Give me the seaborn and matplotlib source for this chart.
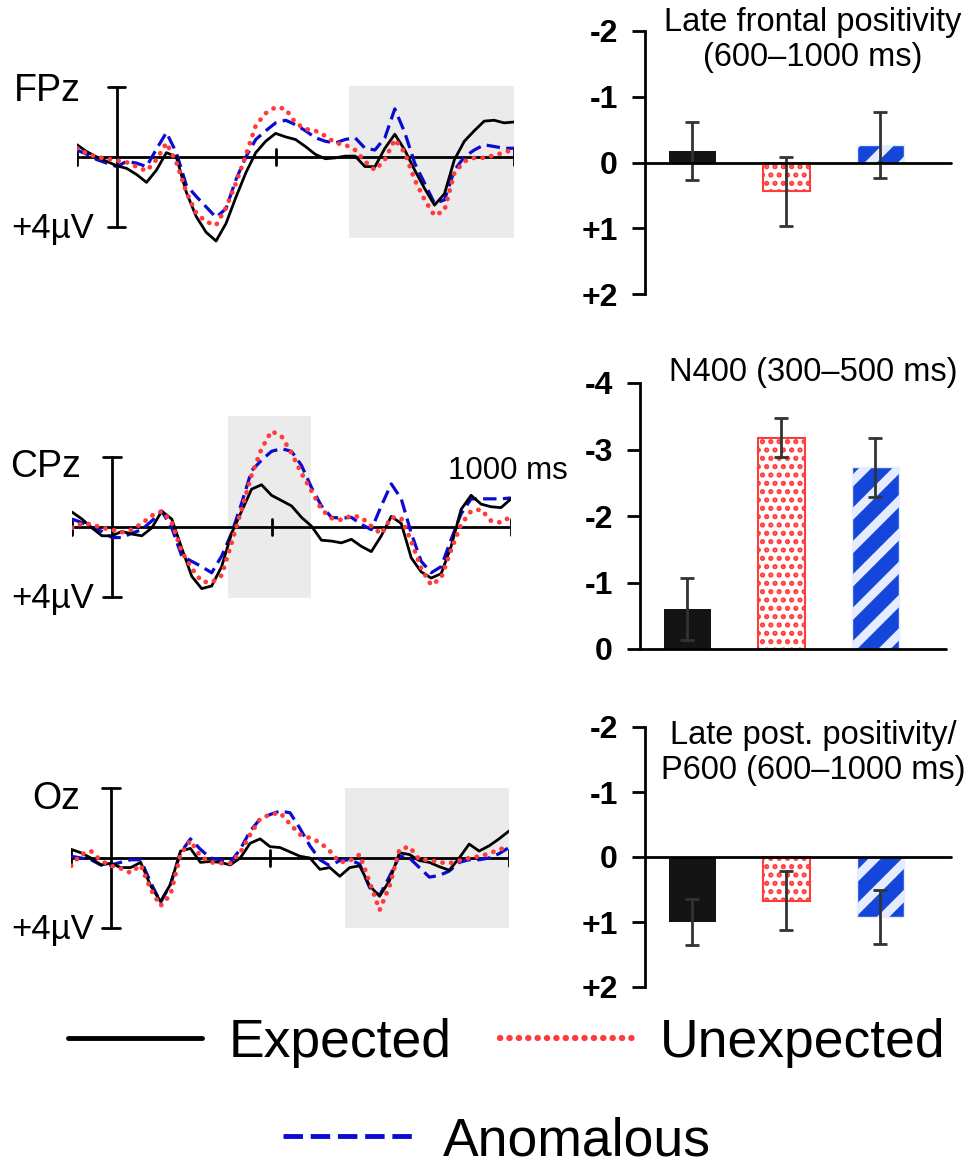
import numpy as np
import pandas as pd
import matplotlib
matplotlib.use("Agg")
import matplotlib.pyplot as plt
from matplotlib.lines import Line2D
import seaborn as sns

# ERP waveforms (µV, negative plotted up), sampled every 25 ms from -100 to 1000 ms
TIMES = np.arange(-100, 1001, 25)

FPZ_EXPECTED = [-0.7, -0.3, 0.0, 0.25, 0.5, 0.65, 1.0, 1.45, 0.75, -0.25, 0.0, 2.0, 3.4, 4.3, 4.8,
                3.8, 2.3, 0.9, -0.25, -0.9, -1.35, -1.15, -1.0, -0.6, -0.15, 0.1, 0.05, -0.05, -0.05,
                0.55, 0.55, -0.5, -1.3, -0.4, 0.75, 1.8, 2.75, 2.1, 0.15, -0.9, -1.5, -2.05, -2.1,
                -1.95, -2.0]
FPZ_UNEXPECTED = [-0.5, -0.2, 0.0, 0.1, 0.2, 0.3, 0.55, 0.8, 0.15, -0.8, 0.3, 2.0, 3.2, 3.7, 3.9,
                  2.9, 1.5, -0.1, -1.8, -2.5, -2.85, -2.75, -1.95, -1.6, -1.5, -1.2, -0.8, -0.7, -0.4,
                  0.25, 0.75, 0.15, -1.0, -0.25, 1.3, 2.45, 3.35, 3.05, 0.9, 0.25, 0.05, 0.05, -0.1,
                  -0.25, -0.45]
FPZ_ANOMALOUS = [-0.4, -0.15, 0.15, 0.35, 0.55, 0.25, 0.35, 0.55, -0.45, -1.4, -0.25, 1.6, 2.25, 2.85,
                 3.45, 2.95, 1.3, 0.0, -1.0, -1.5, -1.95, -2.1, -1.85, -1.5, -1.1, -0.9, -0.8, -1.0,
                 -1.1, -0.5, -0.4, -1.1, -2.75, -1.4, 0.35, 1.5, 2.65, 2.45, 0.75, 0.0, -0.4, -0.7,
                 -0.6, -0.5, -0.5]

CPZ_EXPECTED = [-0.85, -0.45, 0.05, 0.5, 0.5, 0.25, 0.4, 0.5, 0.05, -0.9, -0.45, 1.2, 2.8, 3.5, 3.35,
                2.25, 0.35, -0.9, -2.15, -2.4, -1.8, -1.5, -1.2, -0.55, -0.05, 0.75, 0.8, 0.9, 0.7,
                1.1, 1.4, 0.5, -0.6, -0.2, 1.75, 2.55, 2.9, 2.65, 1.1, -1.0, -1.8, -1.3, -1.15, -1.1,
                -1.6]
CPZ_UNEXPECTED = [0.05, -0.2, -0.15, 0.05, 0.15, 0.3, 0.15, -0.2, -0.65, -0.9, -0.25, 1.4, 2.35, 3.1,
                  3.15, 2.75, 0.9, -1.0, -2.95, -4.45, -5.45, -5.15, -4.2, -3.05, -2.05, -1.0, -0.5,
                  -0.4, -0.65, -0.55, -0.05, 0.4, -0.55, -0.5, 0.8, 2.35, 3.3, 2.9, 1.3, -0.15, -0.9,
                  -1.0, -0.35, -0.25, -0.6]
CPZ_ANOMALOUS = [-0.45, -0.25, 0.05, 0.25, 0.6, 0.6, 0.35, 0.15, -0.35, -0.9, 0.05, 1.65, 1.95, 2.25,
                 2.6, 1.65, 0.35, -1.35, -3.2, -3.8, -4.3, -4.45, -4.3, -3.5, -2.25, -1.2, -0.55,
                 -0.5, -0.55, -0.15, 0.15, -1.2, -2.45, -1.6, 0.35, 1.95, 2.6, 2.25, 0.7, -0.75,
                 -1.6, -1.6, -1.6, -1.6, -1.65]

OZ_EXPECTED = [-0.5, -0.3, 0.0, 0.4, 0.3, 0.55, 0.55, 0.25, 1.6, 2.5, 1.5, -0.4, -0.55, 0.25, 0.2,
               0.25, 0.4, 0.0, -0.85, -1.1, -0.65, -0.6, -0.35, -0.1, 0.0, 0.65, 0.55, 1.05, 0.55,
               0.45, 1.6, 2.2, 1.3, -0.3, -0.2, 0.15, 0.25, 0.5, 0.7, 0.0, -0.8, -0.4, -0.7, -1.1,
               -1.55]
OZ_UNEXPECTED = [0.45, -0.2, -0.4, 0.15, 0.45, 0.6, 0.85, 0.4, 1.8, 2.75, 2.1, -0.2, -1.0, -0.1, 0.25,
                 0.3, 0.3, -0.3, -1.35, -2.25, -2.5, -2.6, -1.95, -1.35, -1.15, -0.9, -0.4, 0.25,
                 0.15, -0.2, 1.4, 3.0, 1.6, -0.5, -0.65, 0.1, 0.1, 0.25, 0.3, 0.15, 0.0, -0.1, -0.25,
                 -0.5, -0.6]
OZ_ANOMALOUS = [-0.1, 0.0, 0.1, 0.4, 0.4, 0.25, 0.1, 0.1, 1.4, 2.55, 1.5, -0.3, -1.1, -0.5, 0.0, 0.1,
                0.25, -0.5, -1.55, -2.25, -2.5, -2.7, -2.6, -1.7, -0.7, 0.1, 0.45, 0.15, 0.1, 0.35,
                1.7, 2.15, 1.05, -0.1, 0.0, 0.55, 1.1, 1.0, 0.75, 0.25, 0.1, 0.1, 0.0, -0.25, -0.6]

TIME_TICKS = [-100, 400, 1000]
FPZ_WINDOW = [585, 1000]
CPZ_WINDOW = [290, 500]
OZ_WINDOW = [588, 1000]

# Mean amplitudes (µV) with error bars
CONDITIONS = ["Expected", "Unexpected", "Anomalous"]
FRONTAL_MEANS = [-0.18, 0.44, -0.27]
FRONTAL_ERRS = [0.44, 0.52, 0.50]
N400_MEANS = [-0.60, -3.18, -2.73]
N400_ERRS = [0.47, 0.29, 0.44]
P600_MEANS = [1.00, 0.67, 0.92]
P600_ERRS = [0.36, 0.45, 0.42]

TICKS_PM2 = [-2, -1, 0, 1, 2]
LABELS_PM2 = ["-2", "-1", "0", "+1", "+2"]
TICKS_N400 = [-4, -3, -2, -1, 0]
LABELS_N400 = ["-4", "-3", "-2", "-1", "0"]

BLACK = "#000000"
RED = "#ff3b3b"
BLUE = "#0a0ad2"
BAR_BLUE = "#1447d9"
SHADE = "#ebebeb"

W, H = 974, 1169
sns.set_theme(style="white")
plt.rcParams["font.family"] = ["Liberation Sans", "DejaVu Sans"]
plt.rcParams.update({"text.color": BLACK, "axes.labelcolor": BLACK,
                     "xtick.color": BLACK, "ytick.color": BLACK})
plt.rcParams["hatch.linewidth"] = 2.5

fig = plt.figure(figsize=(W / 100, H / 100), dpi=100)


def px_axes(left, top, right, bottom):
    return fig.add_axes([left / W, 1 - bottom / H, (right - left) / W, (bottom - top) / H])


def px_text(x, y, s, **kw):
    fig.text(x / W, 1 - y / H, s, color=BLACK, **kw)


STYLES = {
    "Expected": dict(color=BLACK, lw=2.0, zorder=4),
    "Unexpected": dict(color=RED, lw=3.4, linestyle=(0, (0.05, 1.8)), dash_capstyle="round", zorder=5),
    "Anomalous": dict(color=BLUE, lw=2.3, linestyle=(0, (4.2, 2)), zorder=3),
}


def erp_panel(left, right, base, scale, top, bottom, waves, window, shade_lim):
    ax = px_axes(left, top, right, bottom)
    ax.fill_between(window, shade_lim[0], shade_lim[1], color=SHADE, lw=0, zorder=0)
    ax.plot([TIMES[0], TIMES[-1]], [0, 0], color=BLACK, lw=2, zorder=2)
    for t in TIME_TICKS:
        ax.plot([t, t], [-0.45, 0.45], color=BLACK, lw=2, zorder=2)
    ax.plot([0, 0], [-4, 4], color=BLACK, lw=2, zorder=2)
    for v in (-4, 4):
        ax.plot([-22, 22], [v, v], color=BLACK, lw=2, zorder=2)
    for cond in ["Anomalous", "Expected", "Unexpected"]:
        sns.lineplot(x=TIMES, y=waves[cond], ax=ax, **STYLES[cond])
    ax.set_xlim(-100, 1000)
    ax.set_ylim((bottom - base) / scale, (top - base) / scale)
    ax.axis("off")
    return ax


erp_panel(77, 514, 157, 17.5, 30, 300,
          {"Expected": FPZ_EXPECTED, "Unexpected": FPZ_UNEXPECTED, "Anomalous": FPZ_ANOMALOUS},
          FPZ_WINDOW, (-4.05, 4.65))
erp_panel(72, 511, 527, 17.6, 390, 650,
          {"Expected": CPZ_EXPECTED, "Unexpected": CPZ_UNEXPECTED, "Anomalous": CPZ_ANOMALOUS},
          CPZ_WINDOW, (-6.3, 4.05))
erp_panel(71, 509, 858, 17.4, 740, 990,
          {"Expected": OZ_EXPECTED, "Unexpected": OZ_UNEXPECTED, "Anomalous": OZ_ANOMALOUS},
          OZ_WINDOW, (-4.0, 4.0))

px_text(14, 91, "FPz", fontsize=27, va="center")
px_text(11, 229, "+4µV", fontsize=25, va="center")
px_text(10, 467, "CPz", fontsize=27, va="center")
px_text(11, 598, "+4µV", fontsize=25, va="center")
px_text(32, 799, "Oz", fontsize=27, va="center")
px_text(11, 929, "+4µV", fontsize=25, va="center")
px_text(448, 471, "1000 ms", fontsize=22.5, va="center")


def bar_panel(left, top, bottom, means, errs, ylim, ticks, labels):
    ax = px_axes(left, top, left + 306, bottom)
    df = pd.DataFrame({"condition": CONDITIONS, "amp": means})
    sns.barplot(data=df, x="condition", y="amp", hue="condition", palette=["#141414", "white", BAR_BLUE],
                saturation=1, width=0.5, errorbar=None, legend=False, ax=ax)
    looks = [
        dict(facecolor="#141414", edgecolor="#141414", lw=0, hatch=None, hlw=None),
        dict(facecolor="white", edgecolor=RED, lw=1.5, hatch="..", hlw=2.5),
        dict(facecolor=BAR_BLUE, edgecolor="#e6ecff", lw=1.0, hatch="/", hlw=6.3),
    ]
    for patch, look in zip(ax.patches, looks):
        patch.set_facecolor(look["facecolor"])
        patch.set_edgecolor(look["edgecolor"])
        patch.set_linewidth(look["lw"])
        if look["hatch"]:
            patch.set_hatch(look["hatch"])
            if hasattr(patch, "set_hatch_linewidth"):
                patch.set_hatch_linewidth(look["hlw"])
    ax.errorbar(x=range(len(CONDITIONS)), y=means, yerr=errs, fmt="none", ecolor="#333333",
                elinewidth=2, capsize=5, capthick=2, zorder=6)
    ax.axhline(0, color=BLACK, lw=2, clip_on=False, zorder=7)
    ax.set_xlim(-0.5, 2.75)
    ax.set_ylim(*ylim)
    sns.despine(ax=ax, bottom=True)
    ax.spines["left"].set_linewidth(2)
    ax.spines["left"].set_color(BLACK)
    ax.spines["left"].set_bounds(min(ylim), max(ylim))
    ax.set_xticks([])
    ax.set_xlabel("")
    ax.set_ylabel("")
    ax.set_yticks(ticks)
    ax.set_yticklabels(labels, fontsize=23, fontweight="bold")
    ax.tick_params(axis="y", left=True, length=9.5, width=2, pad=10, color=BLACK, labelcolor=BLACK)
    ax.set_facecolor("none")
    return ax


bar_panel(645, 31, 294, FRONTAL_MEANS, FRONTAL_ERRS, (2, -2), TICKS_PM2, LABELS_PM2)
bar_panel(640, 383, 649, N400_MEANS, N400_ERRS, (0, -4), TICKS_N400, LABELS_N400)
bar_panel(645, 727, 987, P600_MEANS, P600_ERRS, (2, -2), TICKS_PM2, LABELS_PM2)

px_text(813, 40, "Late frontal positivity\n(600–1000 ms)", fontsize=23.5, ha="center", va="center",
        linespacing=1.15)
px_text(813, 372, "N400 (300–500 ms)", fontsize=23.5, ha="center", va="center")
px_text(813, 753, "Late post. positivity/\nP600 (600–1000 ms)", fontsize=23.5, ha="center", va="center",
        linespacing=1.15)

# Legend: two entries on the first row, one on the second
handles = {
    "Expected": Line2D([], [], color=BLACK, lw=3.5),
    "Unexpected": Line2D([], [], color=RED, lw=4.5, linestyle=(0, (0.05, 1.45)), dash_capstyle="round"),
    "Anomalous": Line2D([], [], color=BLUE, lw=3.5, linestyle=(0, (4, 1.6))),
}
legend_kw = dict(loc="center", frameon=False, fontsize=38.5, handlelength=2.5, handletextpad=0.5,
                 columnspacing=0.9, borderpad=0, borderaxespad=0, labelcolor=BLACK)
fig.legend([handles["Expected"], handles["Unexpected"]], ["Expected", "Unexpected"], ncol=2,
           bbox_to_anchor=(507 / W, 1 - 1043 / H), **legend_kw)
fig.legend([handles["Anomalous"]], ["Anomalous"], bbox_to_anchor=(497 / W, 1 - 1141 / H), **legend_kw)

fig.savefig("out.png", dpi=100, facecolor="white")
plt.close(fig)
